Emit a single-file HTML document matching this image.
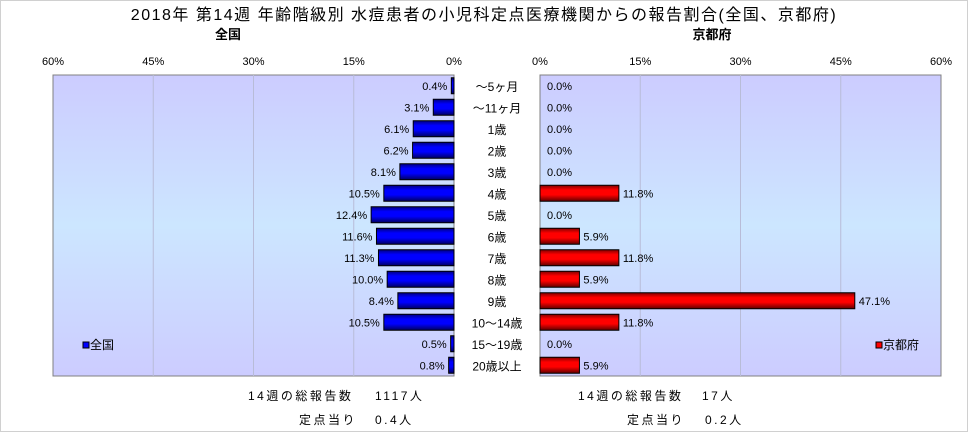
<!DOCTYPE html>
<html><head><meta charset="utf-8">
<style>
body{margin:0;background:#fff;font-family:"Liberation Sans","Noto Sans CJK JP",sans-serif;}
#wrap{position:relative;width:968px;height:432px;overflow:hidden;}
svg text{font-family:"Liberation Sans","Noto Sans CJK JP",sans-serif;}
.foot{letter-spacing:2.5px;}
</style></head><body>
<div id="wrap">
<svg id="chart" width="968" height="432">
<defs>
<linearGradient id="bg" x1="0" y1="0" x2="0" y2="1">
<stop offset="0" stop-color="#ccccff"/><stop offset="0.5" stop-color="#cce6ff"/><stop offset="1" stop-color="#ccccff"/>
</linearGradient>
<linearGradient id="gb" x1="0" y1="0" x2="0" y2="1">
<stop offset="0" stop-color="#000080"/><stop offset="0.3" stop-color="#0000ff"/><stop offset="0.6" stop-color="#0000ff"/><stop offset="1" stop-color="#000060"/>
</linearGradient>
<linearGradient id="gr" x1="0" y1="0" x2="0" y2="1">
<stop offset="0" stop-color="#800000"/><stop offset="0.3" stop-color="#ff0000"/><stop offset="0.6" stop-color="#ff0000"/><stop offset="1" stop-color="#600000"/>
</linearGradient>
</defs>
<rect x="0.5" y="0.5" width="967" height="431" fill="none" stroke="#d0d0d0"/>
<text x="484" y="20" font-size="16" letter-spacing="1.5" text-anchor="middle">2018年 第14週 年齢階級別 水痘患者の小児科定点医療機関からの報告割合(全国、京都府)</text>
<text x="228" y="39" font-size="13" font-weight="bold" text-anchor="middle">全国</text>
<text x="712" y="39" font-size="13" font-weight="bold" text-anchor="middle">京都府</text>
<g id="g"></g>
<text class="foot" x="248" y="400" font-size="12">14週の総報告数</text>
<text class="foot" x="375" y="400" font-size="12">1117人</text>
<text class="foot" x="299" y="424" font-size="12">定点当り</text>
<text class="foot" x="375" y="424" font-size="12">0.4人</text>
<text class="foot" x="578" y="400" font-size="12">14週の総報告数</text>
<text class="foot" x="702" y="400" font-size="12">17人</text>
<text class="foot" x="627" y="424" font-size="12">定点当り</text>
<text class="foot" x="705" y="424" font-size="12">0.2人</text>
</svg>
</div>
<script>
const categories=["～5ヶ月","～11ヶ月","1歳","2歳","3歳","4歳","5歳","6歳","7歳","8歳","9歳","10～14歳","15～19歳","20歳以上"];
const nationalValues=[0.4,3.1,6.1,6.2,8.1,10.5,12.4,11.6,11.3,10.0,8.4,10.5,0.5,0.8];
const kyotoValues=[0,0,0,0,0,11.8,0,5.9,11.8,5.9,47.1,11.8,0,5.9];
const tickValues=[0,15,30,45,60];
(function(){
const NS="http://www.w3.org/2000/svg";
const g=document.getElementById('g');
const pTop=75,pBot=376,L0=454,LW=401,R0=540,RW=401,maxV=60;
const rowH=(pBot-pTop)/categories.length;
function el(t,a){const e=document.createElementNS(NS,t);for(const k in a)e.setAttribute(k,a[k]);g.appendChild(e);return e;}
function lx(v){return L0-v/maxV*LW;}
function rx(v){return R0+v/maxV*RW;}
function yc(i){return pTop+rowH*(i+0.5);}
let e;
e=el('rect',{x:L0-LW,y:pTop,width:LW,height:pBot-pTop,fill:'url(#bg)',stroke:'#808080'});


e=el('rect',{x:R0,y:pTop,width:RW,height:pBot-pTop,fill:'url(#bg)',stroke:'#808080'});


tickValues.forEach(v=>{
  if(v>0&&v<60){
    e=el('line',{x1:lx(v),x2:lx(v),y1:pTop,y2:pBot,stroke:'#b8bcd8'});
    
    
    e=el('line',{x1:rx(v),x2:rx(v),y1:pTop,y2:pBot,stroke:'#b8bcd8'});
    
    
  }
  e=el('text',{x:lx(v),y:65,'font-size':11,'text-anchor':'middle'});e.textContent=v+'%';
  
  
  e=el('text',{x:rx(v),y:65,'font-size':11,'text-anchor':'middle'});e.textContent=v+'%';
  
  
});
categories.forEach((c,i)=>{
  const y=yc(i),h=16;
  e=el('text',{x:497,y:y+5,'font-size':12,'text-anchor':'middle'});e.textContent=c;
  
  
  const nv=nationalValues[i];
  e=el('rect',{x:lx(nv),y:y-h/2,width:L0-lx(nv),height:h,fill:'url(#gb)',stroke:'#000'});
  
  
  e=el('text',{x:lx(nv)-4,y:y+4,'font-size':11,'text-anchor':'end'});e.textContent=nv.toFixed(1)+'%';
  
  
  const kv=kyotoValues[i];
  if(kv>0){
    e=el('rect',{x:R0,y:y-h/2,width:rx(kv)-R0,height:h,fill:'url(#gr)',stroke:'#000'});
    
    
  }
  e=el('text',{x:(kv>0?rx(kv)+4:R0+7),y:y+4,'font-size':11});e.textContent=kv.toFixed(1)+'%';
  
  
});
e=el('rect',{x:83,y:342,width:6,height:6,fill:'#0000ff',stroke:'#000'});


e=el('text',{x:90,y:349,'font-size':12});e.textContent='全国';


e=el('rect',{x:876,y:342,width:6,height:6,fill:'#ff0000',stroke:'#000'});


e=el('text',{x:883,y:349,'font-size':12});e.textContent='京都府';


})();
</script>
</body></html>
